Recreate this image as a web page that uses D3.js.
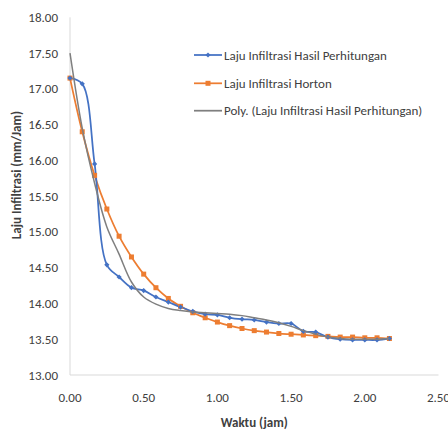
<!DOCTYPE html>
<html><head><meta charset="utf-8">
<script src="https://cdn.jsdelivr.net/npm/d3@7"></script>
<style>
html,body{margin:0;padding:0;background:#fff;}
svg{display:block;}
text{font-family:"Carlito","Liberation Sans Narrow","Open Sans",sans-serif;fill:#404040;}
</style></head>
<body>
<svg id="c" width="448" height="431"></svg>
<script>
// Time (jam)
const waktu = [0.00,0.083,0.167,0.25,0.333,0.417,0.50,0.583,0.667,0.75,0.833,0.917,1.00,1.083,1.167,1.25,1.333,1.417,1.50,1.583,1.667,1.75,1.833,1.917,2.00,2.083,2.167];
// Laju Infiltrasi Hasil Perhitungan
const hasilPerhitungan = [17.15,17.07,15.95,14.54,14.37,14.22,14.18,14.09,14.02,13.95,13.89,13.85,13.84,13.80,13.78,13.77,13.74,13.72,13.72,13.61,13.60,13.53,13.50,13.49,13.49,13.49,13.51];
// Laju Infiltrasi Horton
const horton = [17.15,16.40,15.79,15.32,14.94,14.65,14.41,14.22,14.07,13.96,13.87,13.80,13.74,13.69,13.65,13.62,13.60,13.58,13.57,13.56,13.55,13.54,13.53,13.53,13.52,13.52,13.51];
// Poly. trendline
const polyTrend = [17.50,16.45,15.68,15.07,14.69,14.30,14.09,13.99,13.93,13.90,13.88,13.87,13.86,13.85,13.83,13.80,13.77,13.73,13.68,13.62,13.57,13.53,13.51,13.50,13.50,13.50,13.51];
const xTicks = [0,0.5,1,1.5,2,2.5];
const yTicks = [13,13.5,14,14.5,15,15.5,16,16.5,17,17.5,18];
const seriesNames = ["Laju Infiltrasi Hasil Perhitungan","Laju Infiltrasi Horton","Poly. (Laju Infiltrasi Hasil Perhitungan)"];
const colors = ["#4472C4","#ED7D31","#7F7F7F"];

const svg = d3.select("#c");
const x = d3.scaleLinear().domain([0,2.5]).range([70,438.5]);
const y = d3.scaleLinear().domain([13,18]).range([375,17.3]);

// axes lines
svg.append("line").attr("x1",x(0)).attr("x2",x(0)).attr("y1",y(18)).attr("y2",y(13))
  .attr("stroke","#d9d9d9").attr("stroke-width",1);
svg.append("line").attr("x1",x(0)).attr("x2",x(2.5)).attr("y1",y(13)).attr("y2",y(13))
  .attr("stroke","#d9d9d9").attr("stroke-width",1);

// tick labels
svg.append("g").selectAll("text").data(yTicks).join("text")
  .attr("x",58).attr("y",d=>y(d)).attr("dy","0.35em").attr("text-anchor","end")
  .attr("font-size",13).text(d=>d3.format(".2f")(d));
svg.append("g").selectAll("text").data(xTicks).join("text")
  .attr("x",d=>x(d)).attr("y",397).attr("dy","0.35em").attr("text-anchor","middle")
  .attr("font-size",13).text(d=>d3.format(".2f")(d));

// axis titles
svg.append("text").attr("x",(x(0)+x(2.5))/2).attr("y",422).attr("dy","0.35em")
  .attr("text-anchor","middle").attr("font-size",13).attr("font-weight","bold").attr("fill","#262626")
  .text("Waktu (jam)");
svg.append("text").attr("transform",`translate(16,175) rotate(-90)`).attr("dy","0.35em")
  .attr("text-anchor","middle").attr("font-size",13).attr("font-weight","bold").attr("fill","#262626")
  .text("Laju Infiltrasi (mm/Jam)");

const line = d3.line().x((d,i)=>x(waktu[i])).y(d=>y(d)).curve(d3.curveCatmullRom.alpha(0.5));
const allSeries = [hasilPerhitungan, horton, polyTrend];

// orange first (behind), then blue, then gray trendline on top
[1,0].forEach(k=>{
  svg.append("path").datum(allSeries[k]).attr("d",line).attr("fill","none")
    .attr("stroke",colors[k]).attr("stroke-width",1.75);
});
// markers
svg.append("g").selectAll("rect").data(horton).join("rect")
  .attr("x",(d,i)=>x(waktu[i])-2.5).attr("y",d=>y(d)-2.5).attr("width",5).attr("height",5)
  .attr("fill",colors[1]);
svg.append("g").selectAll("path").data(hasilPerhitungan).join("path")
  .attr("d",(d,i)=>`M${x(waktu[i])},${y(d)-2.6}l2.6,2.6l-2.6,2.6l-2.6,-2.6z`)
  .attr("fill",colors[0]);
svg.append("path").datum(polyTrend).attr("d",line).attr("fill","none")
  .attr("stroke",colors[2]).attr("stroke-width",1.5);

// legend
const lg = svg.append("g");
const ly = [55,83.3,110.7];
seriesNames.forEach((n,k)=>{
  lg.append("line").attr("x1",194).attr("x2",222).attr("y1",ly[k]).attr("y2",ly[k])
    .attr("stroke",colors[k]).attr("stroke-width",1.75);
  if(k===0) lg.append("path").attr("d",`M208,${ly[k]-2.6}l2.6,2.6l-2.6,2.6l-2.6,-2.6z`).attr("fill",colors[0]);
  if(k===1) lg.append("rect").attr("x",205.5).attr("y",ly[k]-2.5).attr("width",5).attr("height",5).attr("fill",colors[1]);
  lg.append("text").attr("x",224).attr("y",ly[k]).attr("dy","0.35em").attr("font-size",13)
    .attr("fill","#404040").text(n);
});
</script>
</body></html>
